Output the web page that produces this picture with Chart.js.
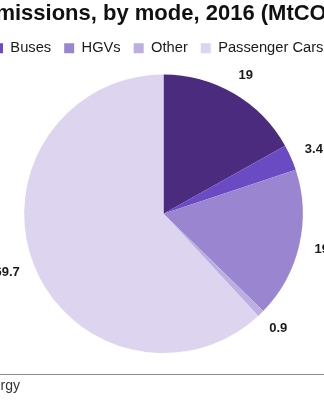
<!DOCTYPE html>
<html lang="en">
<head>
<meta charset="UTF-8">
<title>Emissions by mode</title>
<script src="https://cdn.jsdelivr.net/npm/chart.js"></script>
<style>
  html, body { margin: 0; padding: 0; background: #fff; overflow: hidden; }
  /* the reference is a crop of a wider chart, so the canvas spills past both edges */
  #wrap { position: relative; width: 375px; height: 400px; margin-left: -28px; }
</style>
</head>
<body>
<div id="wrap"><canvas id="myChart"></canvas></div>

<script>
// data
var modes = ['Vans', 'Buses', 'HGVs', 'Other', 'Passenger Cars'];
var emissions = [19, 3.4, 19.6, 0.9, 69.7];
var colours = ['#4a2b7d', '#6a4bc4', '#9a86d0', '#bcaee0', '#ddd5ef'];

var FONT = '"Liberation Sans", Arial, sans-serif';

// value labels just outside each slice
var valueLabels = {
  id: 'valueLabels',
  afterDatasetsDraw(chart, args, opts) {
    var ctx = chart.ctx;
    var meta = chart.getDatasetMeta(0);
    ctx.save();
    ctx.font = 'bold 13px ' + FONT;
    ctx.fillStyle = '#1a1a1a';
    ctx.textAlign = 'center';
    ctx.textBaseline = 'middle';
    meta.data.forEach(function (arc, i) {
      var p = arc.getProps(['x', 'y', 'startAngle', 'endAngle', 'outerRadius'], true);
      var a = (p.startAngle + p.endAngle) / 2;
      var txt = String(emissions[i]);
      var hw = ctx.measureText(txt).width / 2;
      var r = p.outerRadius + opts.gap;
      var x = p.x + Math.cos(a) * (r + hw);
      var y = p.y + Math.sin(a) * (r + 5);
      ctx.fillText(txt, x, y);
    });
    ctx.restore();
  }
};

// rule and source line at the bottom
var footer = {
  id: 'footer',
  afterDraw(chart) {
    var ctx = chart.ctx;
    ctx.save();
    ctx.strokeStyle = '#8c8c8c';
    ctx.lineWidth = 1;
    ctx.beginPath();
    ctx.moveTo(0, 374.5);
    ctx.lineTo(chart.width, 374.5);
    ctx.stroke();
    ctx.font = '14px ' + FONT;
    ctx.fillStyle = '#333';
    ctx.textAlign = 'right';
    ctx.textBaseline = 'alphabetic';
    ctx.fillText('Source: Department for Business, Energy', 48, 390);
    ctx.restore();
  }
};

new Chart(document.getElementById('myChart'), {
  type: 'pie',
  data: {
    labels: modes,
    datasets: [{
      data: emissions,
      backgroundColor: colours,
      borderWidth: 0,
      radius: '94%'
    }]
  },
  options: {
    responsive: true,
    maintainAspectRatio: false,
    devicePixelRatio: 1,
    animation: false,
    layout: { padding: { left: 8, bottom: 38 } },
    plugins: {
      title: {
        display: true,
        text: 'Emissions, by mode, 2016 (MtCO2)',
        color: '#111',
        font: { family: FONT, size: 22, weight: 'bold' },
        padding: { top: 0.5, bottom: 1 }
      },
      legend: {
        display: true,
        position: 'top',
        align: 'start',
        labels: {
          color: '#1a1a1a',
          font: { family: FONT, size: 14.7 },
          boxWidth: 10,
          boxHeight: 10,
          padding: 13,
          filter: function (item) { return item.index !== 0; }
        }
      },
      tooltip: { enabled: false },
      valueLabels: { gap: 16 }
    }
  },
  plugins: [valueLabels, footer]
});
</script>
</body>
</html>
